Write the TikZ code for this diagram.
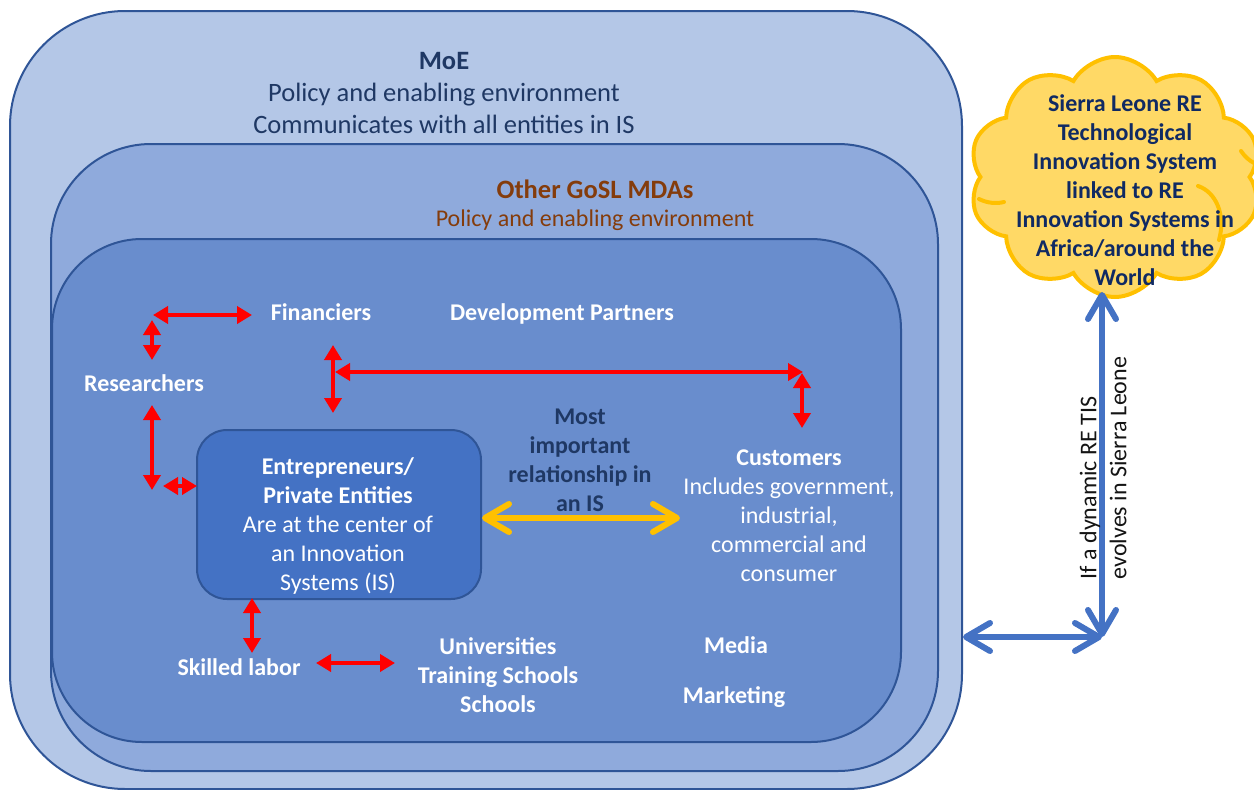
\documentclass[tikz,border=0pt]{standalone}
\usepackage{fontspec}
\setmainfont{Carlito}
\usetikzlibrary{arrows.meta,shapes.symbols}

\definecolor{moefill}{HTML}{B4C7E7}
\definecolor{goslfill}{HTML}{8FAADC}
\definecolor{corefill}{HTML}{698DCD}
\definecolor{entfill}{HTML}{4472C4}
\definecolor{edgeblue}{HTML}{2F5597}
\definecolor{navy}{HTML}{1F3864}
\definecolor{brick}{HTML}{843C0C}
\definecolor{linkred}{HTML}{FF0000}
\definecolor{gold}{HTML}{FFC000}
\definecolor{cloudfill}{HTML}{FFD966}
\definecolor{linkblue}{HTML}{4472C4}
\definecolor{cloudtext}{HTML}{102A63}

\tikzset{
  layer/.style={rectangle, draw=edgeblue, line width=2pt, inner sep=0pt},
  lbl/.style={inner sep=0pt, align=center, font=\fontsize{24}{29}\selectfont},
  wlbl/.style={lbl, text=white, font=\bfseries\fontsize{24}{29}\selectfont},
  redlink/.style={draw=linkred, line width=4pt,
    {Triangle[length=15pt,width=17pt]}-{Triangle[length=15pt,width=17pt]}},
  openlink/.style={line width=6pt,
    {Straight Barb[length=24pt,width=28pt,round]}-{Straight Barb[length=24pt,width=28pt,round]}},
  puffline/.style={draw=gold, line width=4pt, line cap=round},
}

\begin{document}
\begin{tikzpicture}[x=1pt,y=-1pt]
\useasboundingbox (0,0) rectangle (1254,790);

% nested spheres of the innovation system
\node[layer, fill=moefill, rounded corners=115pt, minimum width=952pt, minimum height=778pt] (moe) at (486,400) {};
\node[layer, fill=goslfill, rounded corners=100pt, minimum width=887pt, minimum height=627pt] (gosl) at (494.5,457.5) {};
\node[layer, fill=corefill, rounded corners=90pt, minimum width=849pt, minimum height=503pt] (core) at (476.5,490.5) {};
\node[layer, fill=entfill, rounded corners=30pt, minimum width=284pt, minimum height=169pt] (ent) at (339,514.5) {};

% wider innovation system
\node[cloud, cloud puffs=10, cloud puff arc=120, aspect=1.25, draw=gold, line width=4pt,
      fill=cloudfill, minimum width=292pt, minimum height=240pt, inner sep=0pt] (cloud) at (1115,177) {};
\draw[puffline] (1198,186) .. controls (1216,192) and (1226,215) .. (1219,240);
\draw[puffline] (979,199) .. controls (987,203) and (996,204) .. (1004,202);
\draw[puffline] (1241,151) .. controls (1245,157) and (1250,161) .. (1254,163);

% sphere labels
\node[lbl, text=navy, font=\fontsize{26.5}{32}\selectfont] (moetxt) at (444,93.5)
  {\textbf{MoE}\\Policy and enabling environment\\Communicates with all entities in IS};
\node[lbl, text=brick, font=\bfseries\fontsize{26.5}{32}\selectfont] (gosltitle) at (595,189) {Other GoSL MDAs};
\node[lbl, text=brick] (goslsub) at (595,220) {Policy and enabling environment};

% actors
\node[wlbl] (fin) at (321,312) {Financiers};
\node[wlbl] (dev) at (562,314) {Development Partners};
\node[wlbl] (res) at (144,383) {Researchers};
\node[lbl, text=white] (enttxt) at (338,526)
  {\textbf{Entrepreneurs/}\\\textbf{Private Entities}\\Are at the center of\\an Innovation\\Systems (IS)};
\node[lbl, text=navy, font=\bfseries\fontsize{24}{29}\selectfont] (most) at (580,460.5)
  {Most\\important\\relationship in\\an IS};
\node[lbl, text=white] (cust) at (789,516)
  {\textbf{Customers}\\Includes government,\\industrial,\\commercial and\\consumer};
\node[wlbl] (skill) at (239,667) {Skilled labor};
\node[wlbl] (uni) at (498,675) {Universities\\Training Schools\\Schools};
\node[wlbl] (media) at (736,645) {Media};
\node[wlbl] (mkt) at (734,697) {Marketing};

% link end points
\coordinate (r1a) at (153,315);  \coordinate (r1b) at (252,315);
\coordinate (r2a) at (152,320);  \coordinate (r2b) at (152,360);
\coordinate (r3a) at (152,405);  \coordinate (r3b) at (152,490);
\coordinate (r4a) at (163,486);  \coordinate (r4b) at (197,486);
\coordinate (r5a) at (333,345);  \coordinate (r5b) at (333,413);
\coordinate (r6a) at (335,372);  \coordinate (r6b) at (803,372);
\coordinate (r7a) at (802,373);  \coordinate (r7b) at (802,428);
\coordinate (r8a) at (252,598);  \coordinate (r8b) at (252,653);
\coordinate (r9a) at (316,663);  \coordinate (r9b) at (395,663);
\coordinate (y1) at (482,518);   \coordinate (y2) at (680,518);
\coordinate (bend) at (1102,637);
\coordinate (moeport) at (963,637);
\coordinate (cloudfoot) at (1102,292);

% relationships between actors
\foreach \a/\b in {r1a/r1b, r2a/r2b, r3a/r3b, r4a/r4b, r5a/r5b, r6a/r6b, r7a/r7b, r8a/r8b, r9a/r9b}
  \draw[redlink] (\a) -- (\b);
\draw[openlink, draw=gold] (y1) -- (y2);

% link to the wider innovation systems
\draw[openlink, draw=linkblue] (moeport) -- (bend);
\draw[openlink, draw=linkblue] (bend) -- (cloudfoot);

\node[lbl, text=black!92, rotate=90, align=left, font=\fontsize{24}{30}\selectfont] (note) at (1103,468)
  {If a dynamic RE TIS\\evolves in Sierra Leone};

\node[lbl, text=cloudtext, font=\bfseries\fontsize{24}{29}\selectfont] (cloudtxt) at (1125,190)
  {Sierra Leone RE\\Technological\\Innovation System\\linked to RE\\Innovation Systems in\\Africa/around the\\World};
\end{tikzpicture}
\end{document}
